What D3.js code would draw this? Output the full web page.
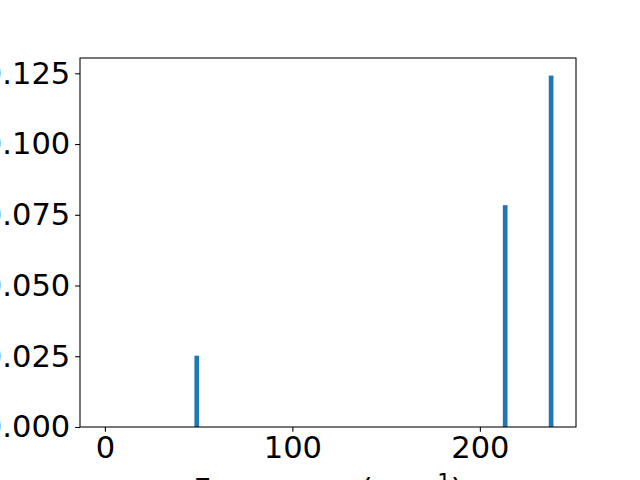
<!DOCTYPE html>
<html>
<head>
<meta charset="utf-8">
<script src="https://cdn.jsdelivr.net/npm/d3@7"></script>
<style>
  body { margin: 0; background: #fff; }
  svg { display: block; }
  text { font-family: "DejaVu Sans", sans-serif; }
</style>
</head>
<body>
<script>
// frequencies (cm^-1) and intensities
var freqs = [0, 49, 213.5, 238];
var heights = [0, 0.0252, 0.0784, 0.1242];
var barWidth = 2.5;
var xTicks = [0, 100, 200];
var yTicks = [0, 0.025, 0.05, 0.075, 0.1, 0.125];

var width = 640, height = 480;
var plotLeft = 80, plotRight = 576, plotTop = 58, plotBottom = 427;
var fontSize = 30.56; // 22pt

var svg = d3.select('body').append('svg')
  .attr('width', width)
  .attr('height', height);

// matplotlib style 5% margins
var xMin = d3.min(freqs) - barWidth / 2, xMax = d3.max(freqs) + barWidth / 2;
var xPad = (xMax - xMin) * 0.05;
var x = d3.scaleLinear()
  .domain([xMin - xPad, xMax + xPad])
  .range([plotLeft, plotRight]);

var yMax = d3.max(heights);
var y = d3.scaleLinear()
  .domain([0, yMax * 1.05])
  .range([plotBottom, plotTop]);

svg.selectAll('.bar')
  .data(freqs)
  .enter().append('rect')
  .attr('class', 'bar')
  .attr('x', function(d) { return x(d - barWidth / 2); })
  .attr('width', function(d) { return x(d + barWidth / 2) - x(d - barWidth / 2); })
  .attr('y', function(d, i) { return y(heights[i]); })
  .attr('height', function(d, i) { return y(0) - y(heights[i]); })
  .attr('fill', '#1f77b4');

// frame
svg.append('rect')
  .attr('x', plotLeft)
  .attr('y', plotTop)
  .attr('width', plotRight - plotLeft)
  .attr('height', plotBottom - plotTop)
  .attr('fill', 'none')
  .attr('stroke', 'black')
  .attr('stroke-width', 1.07);

var xAxis = svg.append('g')
  .attr('transform', 'translate(0,' + plotBottom + ')')
  .call(d3.axisBottom(x).tickValues(xTicks).tickSize(4.86).tickPadding(4.86).tickFormat(d3.format('d')));

var yAxis = svg.append('g')
  .attr('transform', 'translate(' + plotLeft + ',0)')
  .call(d3.axisLeft(y).tickValues(yTicks).tickSize(4.86).tickPadding(4.86).tickFormat(d3.format('.3f')));

[xAxis, yAxis].forEach(function(g) {
  g.select('.domain').remove();
  g.selectAll('.tick line').attr('stroke', 'black').attr('stroke-width', 1.07);
  g.selectAll('.tick text')
    .attr('fill', 'black')
    .style('font-size', fontSize + 'px')
    .style('font-family', '"DejaVu Sans", sans-serif');
});

// x label (mostly cut off by the figure edge)
var xlabel = svg.append('text')
  .attr('x', (plotLeft + plotRight) / 2)
  .attr('y', 500)
  .attr('text-anchor', 'middle')
  .style('font-size', fontSize + 'px')
  .attr('fill', 'black');
xlabel.append('tspan').text('Frequency (cm');
xlabel.append('tspan').attr('dy', -11.5).style('font-size', (fontSize * 0.7) + 'px').text('\u22121');
xlabel.append('tspan').attr('dy', 11.5).text(')');
</script>
</body>
</html>
